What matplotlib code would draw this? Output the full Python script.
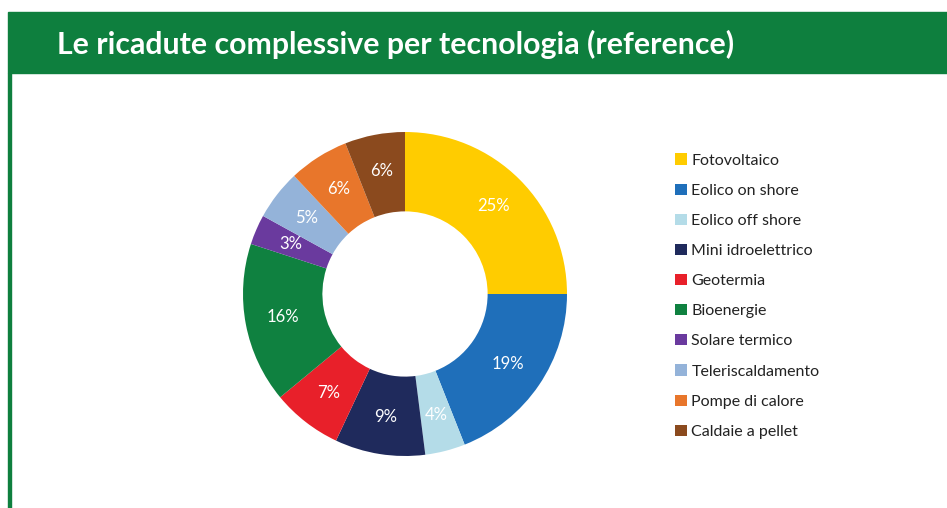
import matplotlib.pyplot as plt
from matplotlib.patches import Rectangle

plt.rcParams['font.family'] = ['Lato', 'DejaVu Sans']

# Quote per tecnologia (%)
tecnologie = ["Fotovoltaico", "Eolico on shore", "Eolico off shore", "Mini idroelettrico",
              "Geotermia", "Bioenergie", "Solare termico", "Teleriscaldamento",
              "Pompe di calore", "Caldaie a pellet"]
quote = [25, 19, 4, 9, 7, 16, 3, 5, 6, 6]
colori = ["#FFCC00", "#1F6FBA", "#B4DCE8", "#1F2A5C", "#E8202A",
          "#0F8140", "#6A3A9E", "#94B3D9", "#E8762B", "#8B4A1E"]

W, H = 947, 508
fig = plt.figure(figsize=(W / 100, H / 100), dpi=100)
fig.patch.set_facecolor("white")

VERDE = "#0E7F3E"
# barra del titolo e bordo sinistro
fig.patches.append(Rectangle((8 / W, 1 - 73 / H), 1, 61 / H, transform=fig.transFigure,
                             color=VERDE, zorder=0))
fig.patches.append(Rectangle((8 / W, 0), 3 / W, 1 - 73 / H, transform=fig.transFigure,
                             color=VERDE, zorder=0))
fig.text(57 / W, 1 - 44 / H, "Le ricadute complessive per tecnologia (reference)",
         color="white", fontsize=21.8, fontweight="bold", va="center", ha="left")

# ciambella
cx, cy, r = 405, 294, 162
half = 170
ax = fig.add_axes([(cx - half) / W, 1 - (cy + half) / H, 2 * half / W, 2 * half / H])
wedges, _, autotexts = ax.pie(quote, colors=colori, startangle=90, counterclock=False,
                              radius=1, autopct=lambda p: f"{p:.0f}%", pctdistance=0.77,
                              wedgeprops=dict(width=0.49, edgecolor="none"),
                              textprops=dict(color="white", fontsize=12))
lim = half / r
ax.set_xlim(-lim, lim)
ax.set_ylim(-lim, lim)
ax.set_aspect("equal")
ax.axis("off")

fig.legend(wedges, tecnologie, loc="upper left",
           bbox_to_anchor=(661 / W, 1 - 139 / H), frameon=False,
           fontsize=11.5, labelcolor="#222222", handlelength=0.7, handleheight=0.7,
           handletextpad=0.3, labelspacing=1.0)

fig.savefig("out.png", dpi=100)
